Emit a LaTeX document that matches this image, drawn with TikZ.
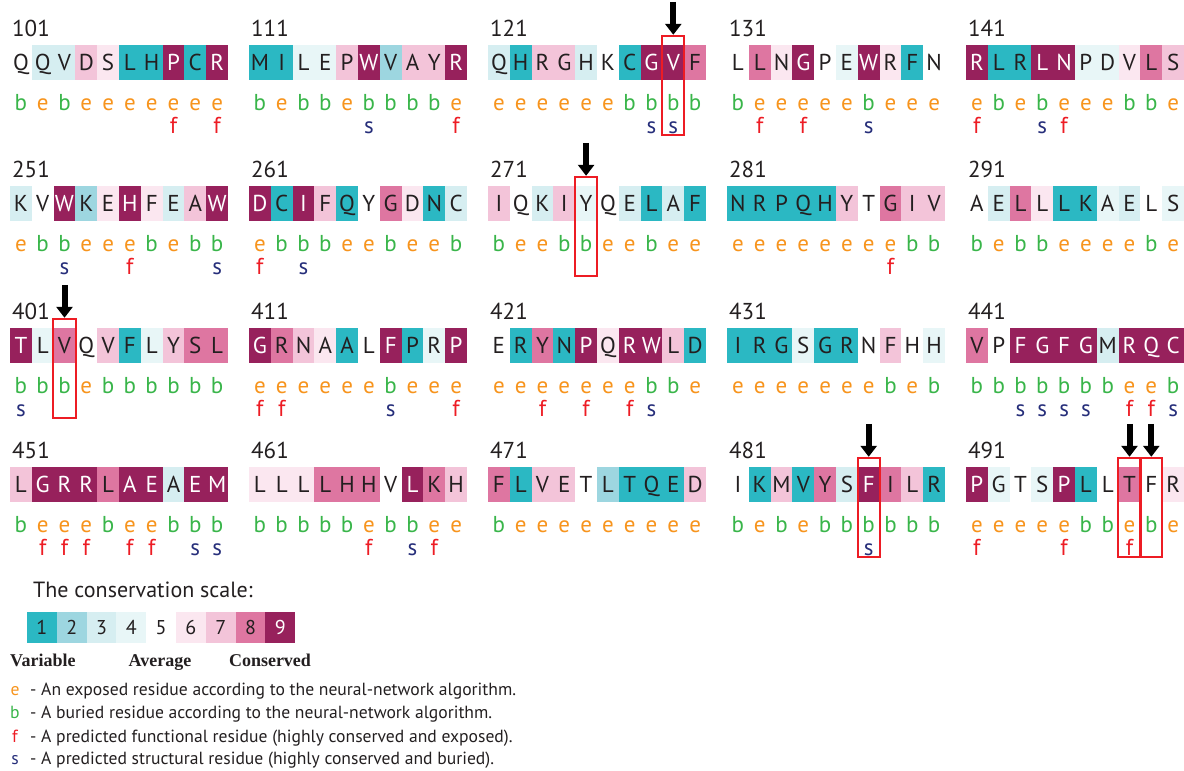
\documentclass[tikz,border=0pt]{standalone}
\usepackage{fontspec}
\setmainfont{PT Sans}
\newfontfamily\legserif{Liberation Serif}
\usetikzlibrary{arrows.meta, calc, positioning}

\definecolor{grade1}{HTML}{2BB8C3}
\definecolor{grade2}{HTML}{9DD6E0}
\definecolor{grade3}{HTML}{D6EEF1}
\definecolor{grade4}{HTML}{E8F6F7}
\definecolor{grade6}{HTML}{FBE7F0}
\definecolor{grade7}{HTML}{F3C4D9}
\definecolor{grade8}{HTML}{DE76A1}
\definecolor{grade9}{HTML}{97215C}
\definecolor{ink}{HTML}{231F20}
\definecolor{expo}{HTML}{F7941D}
\definecolor{buri}{HTML}{39B54A}
\definecolor{func}{HTML}{ED1C24}
\definecolor{struc}{HTML}{262E7A}
\definecolor{hired}{HTML}{ED1C24}

\newcommand{\resfont}{\fontsize{23}{26}\selectfont}
\newcommand{\legfont}{\fontsize{17.6}{20}\selectfont}

\tikzset{
  cell/.style={rectangle, inner sep=0pt, minimum width=21.8pt, minimum height=35pt,
    text height=16.1pt, text depth=0pt, font=\resfont, text=ink},
  cons1/.style={fill=grade1}, cons2/.style={fill=grade2}, cons3/.style={fill=grade3},
  cons4/.style={fill=grade4}, cons5/.style={}, cons6/.style={fill=grade6},
  cons7/.style={fill=grade7}, cons8/.style={fill=grade8},
  cons9/.style={fill=grade9, text=white},
  seqnum/.style={font=\resfont, text=ink, inner sep=0pt, anchor=base west},
  sol-e/.style={font=\resfont, text=expo, inner sep=0pt, anchor=base},
  sol-b/.style={font=\resfont, text=buri, inner sep=0pt, anchor=base},
  fmark/.style={font=\resfont, text=func, inner sep=0pt, anchor=base},
  smark/.style={font=\resfont, text=struc, inner sep=0pt, anchor=base},
  pointer/.style={line width=6pt, -{Triangle[width=16pt,length=11pt]}},
  hilite/.style={draw=hired, line width=2pt},
  scalecell/.style={rectangle, inner sep=0pt, minimum width=29.8pt, minimum height=31pt,
    text height=14pt, text depth=0pt, font=\fontsize{20}{23}\selectfont, text=ink},
  legtext/.style={font=\legfont, text=ink, inner sep=0pt, anchor=base west},
  legkey/.style={font=\legfont, inner sep=0pt, anchor=base},
  scalelabel/.style={inner sep=0pt, font=\fontsize{18}{21}\legserif\bfseries, text=ink},
}

% one block of ten residues: x0, top, first number, residue/grade/burial/mark
\newcommand{\seqblock}[4]{%
  \node[seqnum] (n#3) at (#1+2, #2-9) {#3};
  \foreach \aa/\cc/\bb/\mm [count=\i] in {#4} {
    \node[cell, cons\cc] (r#3-\i) at ({#1+(\i-0.5)*21.8}, #2+17.5) {\aa};
    \node[sol-\bb] (b#3-\i) at ({#1+(\i-0.5)*21.8}, #2+65) {\bb};
    \if f\mm \node[fmark] (m#3-\i) at ({#1+(\i-0.5)*21.8}, #2+88) {f};\fi
    \if s\mm \node[smark] (m#3-\i) at ({#1+(\i-0.5)*21.8}, #2+88) {s};\fi
  }}

% arrow and frame on one residue
\newcommand{\markres}[1]{%
  \coordinate (#1-top) at ($(#1.north)+(0,-43)$);
  \coordinate (#1-tip) at ($(#1.north)+(0,-10)$);
  \draw[pointer] (#1-top) -- (#1-tip);
  \draw[hilite] ($(#1.north west)+(0,-9)$) rectangle ($(#1.south east)+(0,55)$);}

\begin{document}
\begin{tikzpicture}[x=1pt, y=-1pt]
\useasboundingbox (0,0) rectangle (1184,771);

% Row 1
\seqblock{10}{45}{101}{Q/5/b/-, Q/3/e/-, V/3/b/-, D/7/e/-, S/6/e/-, L/1/e/-, H/1/e/-, P/9/e/f, C/1/e/-, R/9/e/f}
\seqblock{249}{45}{111}{M/1/b/-, I/1/e/-, L/4/b/-, E/4/b/-, P/7/e/-, W/9/b/s, V/2/b/-, A/7/b/-, Y/7/b/-, R/9/e/f}
\seqblock{488}{45}{121}{Q/3/e/-, H/1/e/-, R/7/e/-, G/7/e/-, H/3/e/-, K/5/e/-, C/1/b/-, G/9/b/s, V/9/b/s, F/8/b/-}
\seqblock{727}{45}{131}{L/5/b/-, L/8/e/f, N/6/e/-, G/9/e/f, P/5/e/-, E/4/e/-, W/9/b/s, R/6/e/-, F/1/e/-, N/5/e/-}
\seqblock{966}{45}{141}{R/9/e/f, L/1/b/-, R/1/e/-, L/9/b/s, N/9/e/f, P/4/e/-, D/4/e/-, V/6/b/-, L/8/b/-, S/7/e/-}

% Row 2
\seqblock{10}{186}{251}{K/3/e/-, V/5/b/-, W/9/b/s, K/2/e/-, E/6/e/-, H/9/e/f, F/6/b/-, E/3/e/-, A/7/b/-, W/9/b/s}
\seqblock{249}{186}{261}{D/9/e/f, C/1/b/-, I/9/b/s, F/7/b/-, Q/1/e/-, Y/5/e/-, G/8/b/-, D/6/e/-, N/1/e/-, C/3/b/-}
\seqblock{488}{186}{271}{I/7/b/-, Q/5/e/-, K/3/e/-, I/7/b/-, Y/4/b/-, Q/5/e/-, E/3/e/-, L/1/b/-, A/3/e/-, F/1/e/-}
\seqblock{727}{186}{281}{N/1/e/-, R/1/e/-, P/1/e/-, Q/1/e/-, H/1/e/-, Y/7/e/-, T/5/e/-, G/8/e/f, I/7/b/-, V/7/b/-}
\seqblock{966}{186}{291}{A/5/b/-, E/3/e/-, L/8/b/-, L/6/b/-, L/1/e/-, K/1/e/-, A/4/e/-, E/3/e/-, L/5/b/-, S/4/e/-}

% Row 3
\seqblock{10}{328}{401}{T/9/b/s, L/4/b/-, V/8/b/-, Q/5/e/-, V/7/b/-, F/1/b/-, L/4/b/-, Y/7/b/-, S/8/b/-, L/8/b/-}
\seqblock{249}{328}{411}{G/9/e/f, R/8/e/f, N/7/e/-, A/6/e/-, A/1/e/-, L/5/e/-, F/9/b/s, P/1/e/-, R/4/e/-, P/9/e/f}
\seqblock{488}{328}{421}{E/5/e/-, R/1/e/-, Y/8/e/f, N/1/e/-, P/9/e/f, Q/6/e/-, R/9/e/f, W/9/b/s, L/7/b/-, D/1/e/-}
\seqblock{727}{328}{431}{I/1/e/-, R/1/e/-, G/1/e/-, S/4/e/-, G/1/e/-, R/1/e/-, N/5/e/-, F/7/b/-, H/5/e/-, H/4/b/-}
\seqblock{966}{328}{441}{V/8/b/-, P/5/b/-, F/9/b/s, G/9/b/s, F/9/b/s, G/9/b/s, M/3/b/-, R/9/e/f, Q/9/e/f, C/9/b/s}

% Row 4
\seqblock{10}{467}{451}{L/7/b/-, G/9/e/f, R/9/e/f, R/9/e/f, L/8/b/-, A/9/e/f, E/9/e/f, A/3/b/-, E/9/b/s, M/9/b/s}
\seqblock{249}{467}{461}{L/6/b/-, L/6/b/-, L/6/b/-, L/8/b/-, H/8/b/-, H/8/e/f, V/5/b/-, L/9/b/s, K/8/e/f, H/7/e/-}
\seqblock{488}{467}{471}{F/8/b/-, L/1/e/-, V/7/e/-, E/7/e/-, T/5/e/-, L/2/e/-, T/1/e/-, Q/1/e/-, E/1/e/-, D/7/e/-}
\seqblock{727}{467}{481}{I/5/b/-, K/1/e/-, M/7/b/-, V/1/e/-, Y/8/b/-, S/3/b/-, F/9/b/s, I/8/b/-, L/7/b/-, R/1/b/-}
\seqblock{966}{467}{491}{P/9/e/f, G/4/e/-, T/5/e/-, S/4/e/-, P/9/e/f, L/1/b/-, L/5/b/-, T/8/e/f, F/5/b/-, R/6/e/-}

% Marked residues
\markres{r121-9}
\markres{r271-5}
\markres{r401-3}
\markres{r481-7}
\markres{r491-8}
\markres{r491-9}

% Legend
\node[legtext, font=\fontsize{22}{25}\selectfont] (scaletitle) at (33,597) {The conservation scale:};
\foreach \k in {1,...,9}
  \node[scalecell, cons\k] (sc\k) at ({27+(\k-0.5)*29.8}, 627.5) {\k};
\node[scalelabel, anchor=base west] (lvar) at (10,666) {Variable};
\node[scalelabel, anchor=base] (lavg) at (160,666) {Average};
\node[scalelabel, anchor=base] (lcons) at (270,666) {Conserved};

\node[legkey, text=expo] (ke) at (15,695) {e};
\node[legtext] (te) at (30,695) {- An exposed residue according to the neural-network algorithm.};
\node[legkey, text=buri] (kb) at (15,718) {b};
\node[legtext] (tb) at (30,718) {- A buried residue according to the neural-network algorithm.};
\node[legkey, text=func] (kf) at (15,742) {f};
\node[legtext] (tf) at (30,742) {- A predicted functional residue (highly conserved and exposed).};
\node[legkey, text=struc] (ks) at (15,764) {s};
\node[legtext] (ts) at (30,764) {- A predicted structural residue (highly conserved and buried).};
\end{tikzpicture}
\end{document}
